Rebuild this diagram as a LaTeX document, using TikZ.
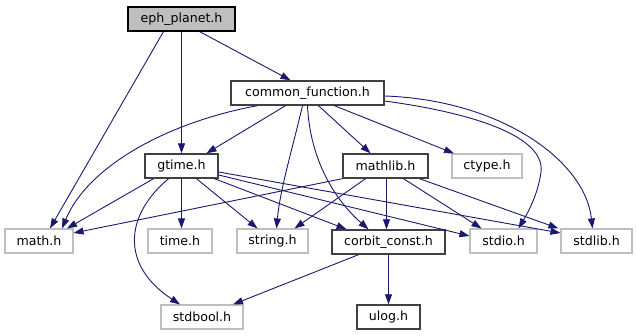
\documentclass[tikz,border=0pt]{standalone}
\usepackage{fontspec}
\setmainfont{DejaVu Sans}
\usetikzlibrary{arrows.meta,calc}
\definecolor{edgeblue}{HTML}{191970}
\definecolor{extgray}{HTML}{BFBFBF}
\definecolor{intborder}{HTML}{404040}
\begin{document}
\begin{tikzpicture}[x=1pt,y=-1pt,
  hdr/.style={draw=intborder,line width=1.4pt,fill=white,inner sep=0pt,minimum height=24pt,
    font=\fontsize{12.6}{14}\selectfont},
  hdrext/.style={hdr,draw=extgray,line width=1.1pt},
  hdrroot/.style={hdr,draw=black,line width=1.1pt,fill=extgray},
  dep/.style={draw=edgeblue,line width=0.9pt,-{Triangle[length=10pt,width=7pt]},
    shorten >=0pt}]
\useasboundingbox (0,0) rectangle (637,336);
% header files
\node[hdrroot,minimum width=107pt] (eph)     at (181.5,19)  {eph\_planet.h};
\node[hdr,minimum width=153pt]     (common)  at (307.5,93)  {common\_function.h};
\node[hdr,minimum width=73pt]      (gtime)   at (181.5,166) {gtime.h};
\node[hdr,minimum width=85pt]      (mathlib) at (385.5,166) {mathlib.h};
\node[hdrext,minimum width=70pt]   (ctype)   at (487,166)   {ctype.h};
\node[hdrext,minimum width=68pt]   (math)    at (39,241)    {math.h};
\node[hdrext,minimum width=64pt]   (time)    at (180,241)   {time.h};
\node[hdrext,minimum width=71pt]   (string)  at (272.5,241) {string.h};
\node[hdr,minimum width=113pt]     (corbit)  at (388.5,242) {corbit\_const.h};
\node[hdrext,minimum width=67pt]   (stdio)   at (503.5,241) {stdio.h};
\node[hdrext,minimum width=71pt]   (stdlib)  at (596.5,241) {stdlib.h};
\node[hdrext,minimum width=82pt]   (stdbool) at (202,317)   {stdbool.h};
\node[hdr,minimum width=63pt]      (ulog)    at (388.5,317) {ulog.h};
% includes of eph_planet.h
\draw[dep] ($(eph.south)+(-18,0)$) -- ($(math.north)+(11,0)$);
\draw[dep] (eph.south) -- (gtime.north);
\draw[dep] ($(eph.south)+(18,0)$) -- ($(common.north)+(-17,0)$);
% includes of common_function.h
\draw[dep] ($(common.south)+(-22,0)$) -- ($(gtime.north)+(25,0)$);
\draw[dep] ($(common.south)+(-50,0)$) .. controls (168,122) and (88,166) .. ($(math.north)+(23,0)$);
\draw[dep] ($(common.south)+(-5,0)$) .. controls (292,150) and (280,190) .. ($(string.north)+(4,0)$);
\draw[dep] (common.south) .. controls (310,160) and (335,200) .. ($(corbit.north)+(-20,0)$);
\draw[dep] ($(common.south)+(11,0)$) -- ($(mathlib.north)+(-15,0)$);
\draw[dep] ($(common.south)+(27,0)$) -- ($(ctype.north)+(-33,0)$);
\draw[dep] ($(common.east)+(0,8)$) .. controls (480,114) and (545,138) .. (541,172)
  .. controls (538,195) and (527,214) .. ($(stdio.north)+(15,0)$);
\draw[dep] ($(common.east)+(0,3)$) .. controls (500,100) and (585,160) .. ($(stdlib.north)+(-4,0)$);
% includes of gtime.h
\draw[dep] ($(gtime.south)+(-28,0)$) -- ($(math.north)+(28,0)$);
\draw[dep] (gtime.south) -- (gtime.south |- time.north);
\draw[dep] ($(gtime.south)+(15,0)$) -- ($(string.north)+(-15,0)$);
\draw[dep] ($(gtime.south)+(-13,0)$) .. controls (125,215) and (120,265) .. ($(stdbool.north)+(-22,0)$);
\draw[dep] ($(gtime.south)+(33,0)$) -- ($(corbit.north)+(-42,0)$);
\draw[dep] ($(gtime.east)+(0,9)$) -- ($(stdio.west)+(0,-5)$);
\draw[dep] ($(gtime.east)+(0,6)$) -- ($(stdlib.west)+(0,-8)$);
% includes of mathlib.h
\draw[dep] (mathlib.south west) -- ($(math.east)+(0,-8)$);
\draw[dep] ($(mathlib.south)+(-20,0)$) -- ($(string.north)+(22,0)$);
\draw[dep] ($(mathlib.south)+(1,0)$) -- ($(corbit.north)+(-2,0)$);
\draw[dep] ($(mathlib.south)+(18,0)$) -- ($(stdio.north)+(-22,0)$);
\draw[dep] ($(mathlib.south)+(34,0)$) -- ($(stdlib.north west)+(-2,0)$);
% includes of corbit_const.h
\draw[dep] ($(corbit.south)+(-30,0)$) -- ($(stdbool.north)+(31,0)$);
\draw[dep] (corbit.south) -- (corbit.south |- ulog.north);
\end{tikzpicture}
\end{document}
